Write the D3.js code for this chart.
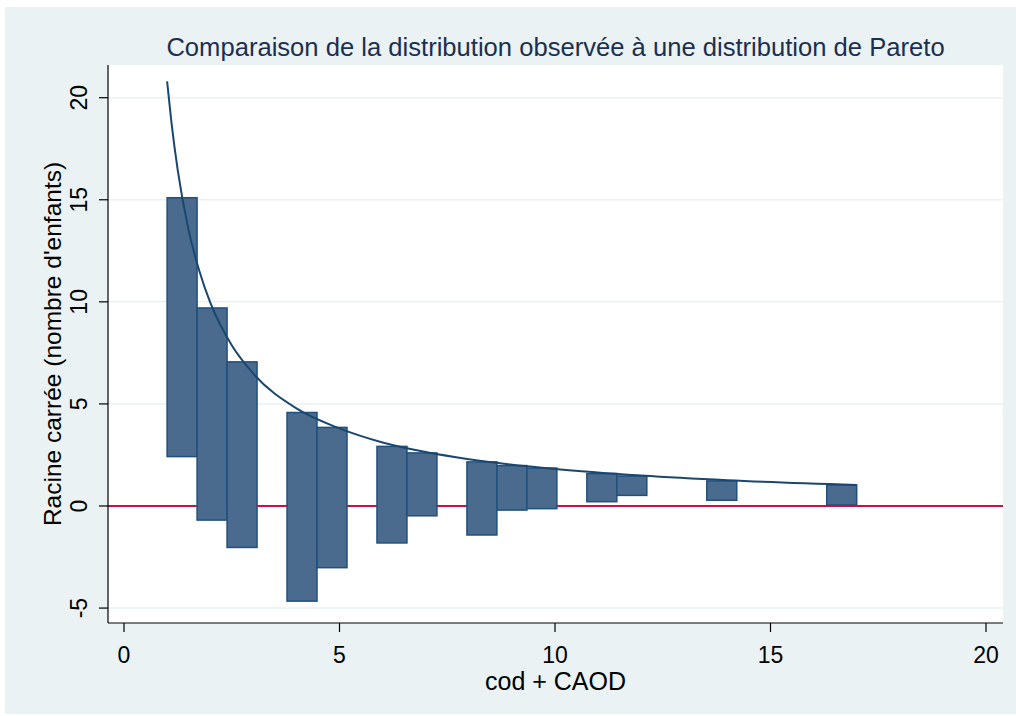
<!DOCTYPE html>
<html>
<head>
<meta charset="utf-8">
<script src="https://cdn.jsdelivr.net/npm/d3@7"></script>
<style>
  body { margin: 0; background: #fff; }
  text { font-family: "Liberation Sans", Arial, sans-serif; }
</style>
</head>
<body>
<svg class="chart"></svg>
<script>
// bins: 23 equal bins between 1 and 17, only the non-empty ones are drawn
var binLo = 1, binHi = 17, nBins = 23;
var binIndex = [0, 1, 2, 4, 5, 7, 8, 10, 11, 12, 14, 15, 18, 22];
// hanging rootogram: top = sqrt(expected), bottom = top - sqrt(observed)
var barTop    = [15.1, 9.7, 7.06, 4.58, 3.85, 2.92, 2.6, 2.16, 1.98, 1.86, 1.59, 1.47, 1.23, 1.03];
var barBottom = [2.42, -0.69, -2.03, -4.66, -3.02, -1.81, -0.48, -1.42, -0.2, -0.13, 0.21, 0.52, 0.28, 0.05];
// fitted Pareto curve
var curveX = [1, 1.1, 1.25, 1.5, 1.75, 2, 2.5, 3, 4, 5, 6, 7, 8, 10, 12, 14, 17];
var curveY = [20.8, 18.8, 16.4, 13.5, 11.5, 9.97, 7.87, 6.48, 4.78, 3.8, 3.11, 2.64, 2.29, 1.81, 1.49, 1.26, 1.03];
var xTicks = [0, 5, 10, 15, 20];
var yTicks = [-5, 0, 5, 10, 15, 20];

var W = 1016, H = 716;
var plot = {left: 108, right: 1003, top: 65, bottom: 623};

var svg = d3.select(".chart").attr("width", W).attr("height", H);

svg.append("rect")
    .attr("x", 5).attr("y", 7)
    .attr("width", W - 5).attr("height", H - 9)
    .attr("fill", "#eaf2f3");

svg.append("rect")
    .attr("x", plot.left).attr("y", plot.top)
    .attr("width", plot.right - plot.left).attr("height", plot.bottom - plot.top)
    .attr("fill", "#fff");

var x = d3.scaleLinear().domain([0, 20]).range([124, 986]);
var y = d3.scaleLinear().domain([0, 20]).range([506, 97.7]);
var binW = (binHi - binLo) / nBins;

// grid
svg.append("g").selectAll("line")
    .data(yTicks)
    .enter().append("line")
    .attr("x1", plot.left).attr("x2", plot.right)
    .attr("y1", function(d) { return y(d); })
    .attr("y2", function(d) { return y(d); })
    .attr("stroke", "#eaf2f3")
    .attr("stroke-width", 1.5);

// zero reference line
svg.append("line")
    .attr("x1", plot.left).attr("x2", plot.right)
    .attr("y1", y(0)).attr("y2", y(0))
    .attr("stroke", "#c8143c")
    .attr("stroke-width", 2);

// bars
svg.append("g").selectAll("rect")
    .data(binIndex)
    .enter().append("rect")
    .attr("x", function(d) { return x(binLo + d * binW); })
    .attr("width", function(d) { return x(binLo + (d + 1) * binW) - x(binLo + d * binW); })
    .attr("y", function(d, i) { return y(barTop[i]); })
    .attr("height", function(d, i) { return y(barBottom[i]) - y(barTop[i]); })
    .attr("fill", "#4a6b8d")
    .attr("stroke", "#21507c")
    .attr("stroke-width", 1.5);

// curve
var line = d3.line()
    .x(function(d, i) { return x(curveX[i]); })
    .y(function(d) { return y(d); })
    .curve(d3.curveMonotoneX);

svg.append("path")
    .datum(curveY)
    .attr("d", line)
    .attr("fill", "none")
    .attr("stroke", "#1a476f")
    .attr("stroke-width", 2);

// axes
svg.append("line")
    .attr("x1", plot.left).attr("x2", plot.left)
    .attr("y1", plot.top).attr("y2", plot.bottom)
    .attr("stroke", "#000").attr("stroke-width", 1.2);
svg.append("line")
    .attr("x1", plot.left).attr("x2", plot.right)
    .attr("y1", plot.bottom).attr("y2", plot.bottom)
    .attr("stroke", "#000").attr("stroke-width", 1.2);

var yt = svg.append("g").selectAll("g")
    .data(yTicks)
    .enter().append("g");
yt.append("line")
    .attr("x1", plot.left - 9).attr("x2", plot.left)
    .attr("y1", function(d) { return y(d); })
    .attr("y2", function(d) { return y(d); })
    .attr("stroke", "#000").attr("stroke-width", 1.2);
yt.append("text")
    .attr("transform", function(d) { return "translate(87," + y(d) + ") rotate(-90)"; })
    .attr("text-anchor", "middle")
    .attr("font-size", 23)
    .attr("fill", "#000")
    .text(function(d) { return d; });

var xt = svg.append("g").selectAll("g")
    .data(xTicks)
    .enter().append("g");
xt.append("line")
    .attr("x1", function(d) { return x(d); })
    .attr("x2", function(d) { return x(d); })
    .attr("y1", plot.bottom).attr("y2", plot.bottom + 9)
    .attr("stroke", "#000").attr("stroke-width", 1.2);
xt.append("text")
    .attr("x", function(d) { return x(d); })
    .attr("y", 663)
    .attr("text-anchor", "middle")
    .attr("font-size", 23)
    .attr("fill", "#000")
    .text(function(d) { return d; });

// titles
svg.append("text")
    .attr("x", (plot.left + plot.right) / 2)
    .attr("y", 690)
    .attr("text-anchor", "middle")
    .attr("font-size", 25)
    .attr("fill", "#000")
    .text("cod + CAOD");

svg.append("text")
    .attr("transform", "translate(61," + (plot.top + plot.bottom) / 2 + ") rotate(-90)")
    .attr("text-anchor", "middle")
    .attr("font-size", 24.5)
    .attr("fill", "#000")
    .text("Racine carrée (nombre d'enfants)");

svg.append("text")
    .attr("x", (plot.left + plot.right) / 2)
    .attr("y", 56)
    .attr("text-anchor", "middle")
    .attr("font-size", 25.6)
    .attr("fill", "#1c2f4f")
    .text("Comparaison de la distribution observée à une distribution de Pareto");
</script>
</body>
</html>
